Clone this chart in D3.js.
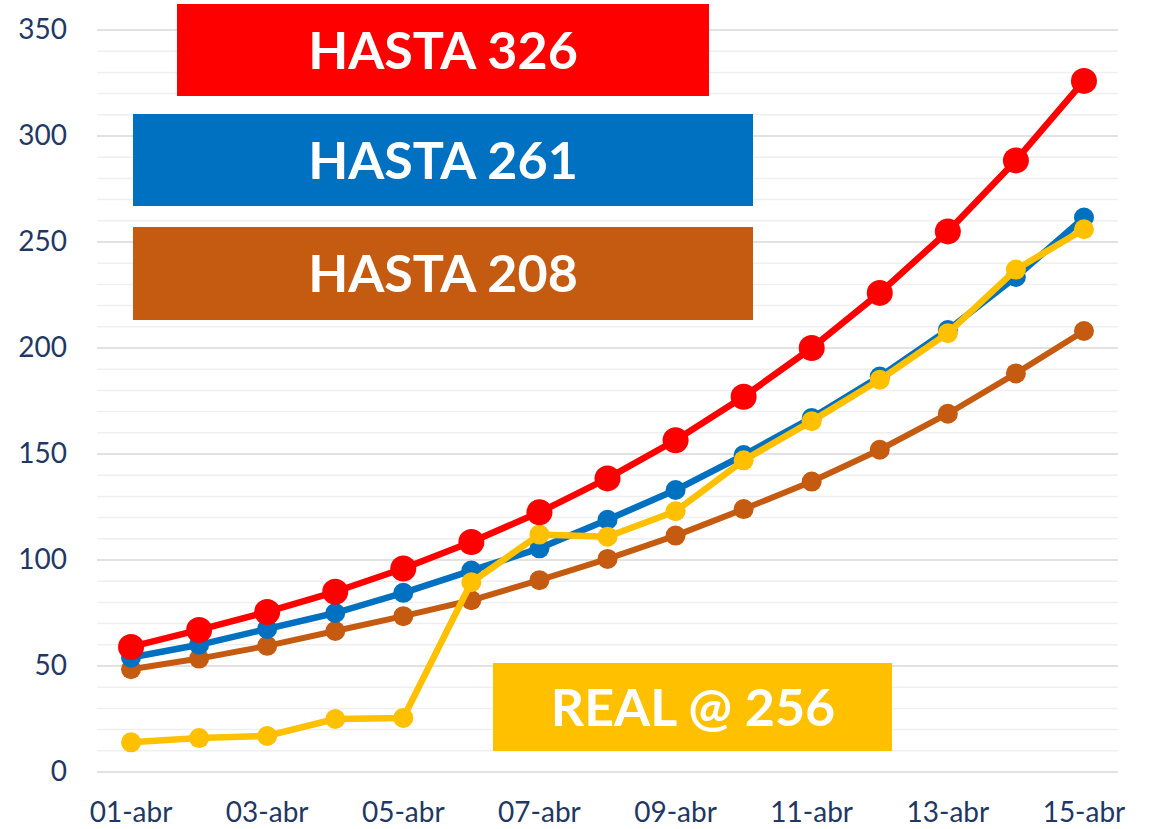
<!DOCTYPE html>
<html>
<head>
<meta charset="utf-8">
<script src="https://cdn.jsdelivr.net/npm/d3@7"></script>
<style>
  html, body { margin: 0; padding: 0; background: #fff; }
  svg { display: block; font-family: Lato, "Noto Sans", sans-serif; }
</style>
</head>
<body>
<div class="chart"></div>
<script>
// Chart data
const dates = ['01-abr','02-abr','03-abr','04-abr','05-abr','06-abr','07-abr','08-abr',
               '09-abr','10-abr','11-abr','12-abr','13-abr','14-abr','15-abr'];
const tickDates = ['01-abr','03-abr','05-abr','07-abr','09-abr','11-abr','13-abr','15-abr'];
const yTicks = [0, 50, 100, 150, 200, 250, 300, 350];

const hasta326 = [59, 67, 75.5, 85, 96, 108.5, 122.5, 138.5, 156.5, 177, 200, 226, 255, 288.5, 326];
const hasta261 = [54, 60, 67.5, 75, 84.5, 95, 105.5, 119, 133, 149.5, 167, 186.5, 208.5, 233.5, 261.5];
const hasta208 = [48.5, 53.5, 59.5, 66.5, 73.5, 81, 90.5, 100.5, 111.5, 124, 137, 152, 169, 188, 208];
const real = [14, 16, 17, 25, 25.5, 89.5, 112, 111, 123, 147, 165.5, 185, 207, 237, 256];

const boxLabels = ['HASTA 326', 'HASTA 261', 'HASTA 208', 'REAL @ 256'];

// Layout
const width = 1153, height = 829;
const plotLeft = 97, plotRight = 1118, plotTop = 30, plotBottom = 772;
const navy = '#1f3864';

const svg = d3.select('.chart')
  .append('svg')
  .attr('width', width)
  .attr('height', height);

const x = d3.scaleBand()
  .domain(dates)
  .range([plotLeft, plotRight])
  .padding(0);

const y = d3.scaleLinear()
  .domain([0, 350])
  .range([plotBottom, plotTop]);

const cx = d => x(d) + x.bandwidth() / 2;

// gridlines: minor every 10, major every 50
svg.append('g')
  .selectAll('line')
  .data(d3.range(10, 351, 10).filter(v => v % 50 !== 0))
  .enter()
  .append('line')
  .attr('x1', plotLeft).attr('x2', plotRight)
  .attr('y1', d => y(d)).attr('y2', d => y(d))
  .attr('stroke', '#efefef')
  .attr('stroke-width', 1.5);

svg.append('g')
  .selectAll('line')
  .data(yTicks)
  .enter()
  .append('line')
  .attr('x1', plotLeft).attr('x2', plotRight)
  .attr('y1', d => y(d)).attr('y2', d => y(d))
  .attr('stroke', '#d9d9d9')
  .attr('stroke-width', 1.5);

// axes
const yAxis = svg.append('g')
  .attr('transform', `translate(${plotLeft},0)`)
  .call(d3.axisLeft(y).tickValues(yTicks).tickSize(0).tickPadding(30));
yAxis.select('.domain').remove();
yAxis.selectAll('text')
  .attr('fill', navy)
  .style('font-size', '28px')
  .style('font-family', 'Lato, sans-serif');

const xAxis = svg.append('g')
  .attr('transform', `translate(0,${plotBottom})`)
  .call(d3.axisBottom(x).tickValues(tickDates).tickSize(0).tickPadding(30));
xAxis.select('.domain').remove();
xAxis.selectAll('text')
  .attr('fill', navy)
  .style('font-size', '28px')
  .style('font-family', 'Lato, sans-serif');

// series, drawn bottom to top
const series = [
  { values: hasta208, color: '#c55a11', width: 6, r: 10 },
  { values: hasta261, color: '#0070c0', width: 6.5, r: 10 },
  { values: real, color: '#ffc000', width: 6.5, r: 10 },
  { values: hasta326, color: '#ff0000', width: 6.5, r: 13 }
];

const line = d3.line()
  .x((v, i) => cx(dates[i]))
  .y(v => y(v));

series.forEach(s => {
  const g = svg.append('g');
  g.append('path')
    .datum(s.values)
    .attr('d', line)
    .attr('fill', 'none')
    .attr('stroke', s.color)
    .attr('stroke-width', s.width)
    .attr('stroke-linejoin', 'round');
  g.selectAll('circle')
    .data(s.values)
    .enter()
    .append('circle')
    .attr('cx', (v, i) => cx(dates[i]))
    .attr('cy', v => y(v))
    .attr('r', s.r)
    .attr('fill', s.color);
});

// label boxes
const boxes = [
  { x0: 177, x1: 709, y0: 4, y1: 96, color: '#ff0000' },
  { x0: 133, x1: 753, y0: 114, y1: 206, color: '#0070c0' },
  { x0: 133, x1: 753, y0: 227, y1: 320, color: '#c55a11' },
  { x0: 493, x1: 892, y0: 663, y1: 751, color: '#ffc000' }
];

boxes.forEach((b, i) => {
  svg.append('rect')
    .attr('x', b.x0).attr('y', b.y0)
    .attr('width', b.x1 - b.x0).attr('height', b.y1 - b.y0)
    .attr('fill', b.color);
  svg.append('text')
    .attr('x', i === 3 ? 693 : 443)
    .attr('y', (b.y0 + b.y1) / 2)
    .attr('dy', '0.36em')
    .attr('text-anchor', 'middle')
    .attr('fill', '#fff')
    .style('font-size', '52px')
    .style('font-weight', 'bold')
    .style('font-family', 'Lato, sans-serif')
    .text(boxLabels[i]);
});
</script>
</body>
</html>
